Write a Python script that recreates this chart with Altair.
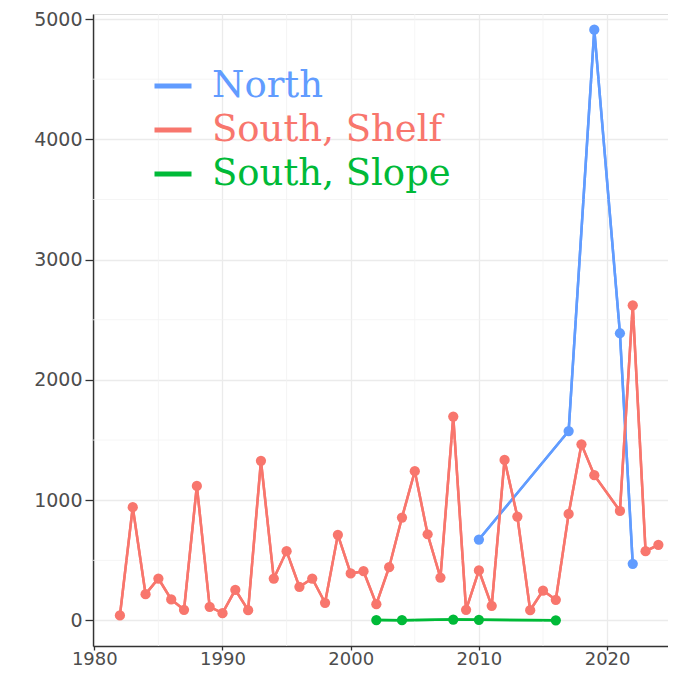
import altair as alt
import pandas as pd

series_names = ["North", "South, Shelf", "South, Slope"]
series_colors = ["#619CFF", "#F8766D", "#00BA38"]

north_years = [2010, 2017, 2019, 2021, 2022]
north_values = [673, 1575, 4912, 2388, 471]

shelf_years = [1982, 1983, 1984, 1985, 1986, 1987, 1988, 1989, 1990, 1991,
               1992, 1993, 1994, 1995, 1996, 1997, 1998, 1999, 2000, 2001,
               2002, 2003, 2004, 2005, 2006, 2007, 2008, 2009, 2010, 2011,
               2012, 2013, 2014, 2015, 2016, 2017, 2018, 2019, 2021, 2022,
               2023, 2024]
shelf_values = [42, 942, 219, 349, 175, 89, 1119, 114, 61, 255,
                86, 1327, 349, 576, 280, 349, 147, 712, 391, 410,
                136, 443, 856, 1241, 717, 357, 1695, 89, 416, 122,
                1335, 864, 86, 249, 172, 886, 1465, 1208, 911, 2620,
                576, 629]

slope_years = [2002, 2004, 2008, 2010, 2016]
slope_values = [4, 3, 8, 6, 2]

x_major = [1980, 1990, 2000, 2010, 2020]
x_minor = [1985, 1995, 2005, 2015]
y_major = [0, 1000, 2000, 3000, 4000, 5000]
y_minor = [500, 1500, 2500, 3500, 4500]

rows = []
for name, ys, vs in [(series_names[0], north_years, north_values),
                     (series_names[1], shelf_years, shelf_values),
                     (series_names[2], slope_years, slope_values)]:
    for y, v in zip(ys, vs):
        rows.append({"year": y, "value": v, "series": name})
df = pd.DataFrame(rows)

xscale = alt.Scale(domain=[1979.9, 2024.75], nice=False, zero=False)
yscale = alt.Scale(domain=[-212, 5042], nice=False, zero=False)
cscale = alt.Scale(domain=series_names, range=series_colors)

label_color_expr = ("datum.label == 'North' ? '#619CFF' : "
                    "(datum.label == 'South, Shelf' ? '#F8766D' : '#00BA38')")

lines = alt.Chart(df).mark_line(strokeWidth=2.5).encode(
    x=alt.X("year:Q", scale=xscale,
            axis=alt.Axis(values=x_major, format="d", grid=True, gridColor="#EBEBEB",
                          gridWidth=1.3, domain=True, domainColor="#333333", domainWidth=1.4,
                          tickColor="#333333", tickSize=4, tickWidth=1.3, labelFontSize=18,
                          labelFont="DejaVu Sans", labelColor="#4D4D4D", labelPadding=0,
                          title=None)),
    y=alt.Y("value:Q", scale=yscale,
            axis=alt.Axis(values=y_major, format="d", grid=True, gridColor="#EBEBEB",
                          gridWidth=1.3, domain=True, domainColor="#333333", domainWidth=1.4,
                          tickColor="#333333", tickSize=8, tickWidth=1.3, labelFontSize=19,
                          labelFont="DejaVu Sans", labelColor="#4D4D4D", labelPadding=3,
                          title=None)),
    color=alt.Color("series:N", scale=cscale,
                    legend=alt.Legend(title=None, orient="none", legendX=59, legendY=51,
                                      symbolType="stroke", symbolStrokeWidth=5,
                                      symbolSize=1369, labelFont="DejaVu Serif",
                                      labelFontSize=37, labelLimit=600,
                                      labelColor={"expr": label_color_expr},
                                      labelOffset=18, rowPadding=5)),
    detail="series:N",
)

minor_y = alt.Chart(pd.DataFrame({"value": y_minor})).mark_rule(
    color="#F3F3F3", strokeWidth=0.8
).encode(y=alt.Y("value:Q", scale=yscale))

minor_x = alt.Chart(pd.DataFrame({"year": x_minor})).mark_rule(
    color="#F3F3F3", strokeWidth=0.8
).encode(x=alt.X("year:Q", scale=xscale))

points = alt.Chart(df).mark_circle(size=105, opacity=1).encode(
    x=alt.X("year:Q", scale=xscale),
    y=alt.Y("value:Q", scale=yscale),
    color=alt.Color("series:N", scale=cscale, legend=None),
)

chart = alt.layer(lines, minor_y, minor_x, lines, points).properties(
    width=575, height=632,
    padding={"left": 85, "top": 6, "right": 0, "bottom": 25},
    autosize=alt.AutoSizeParams(type="none"),
).configure_view(
    stroke=None
).configure(background="white")

chart.save("out.html", embed_options={"renderer": "svg", "actions": False})
